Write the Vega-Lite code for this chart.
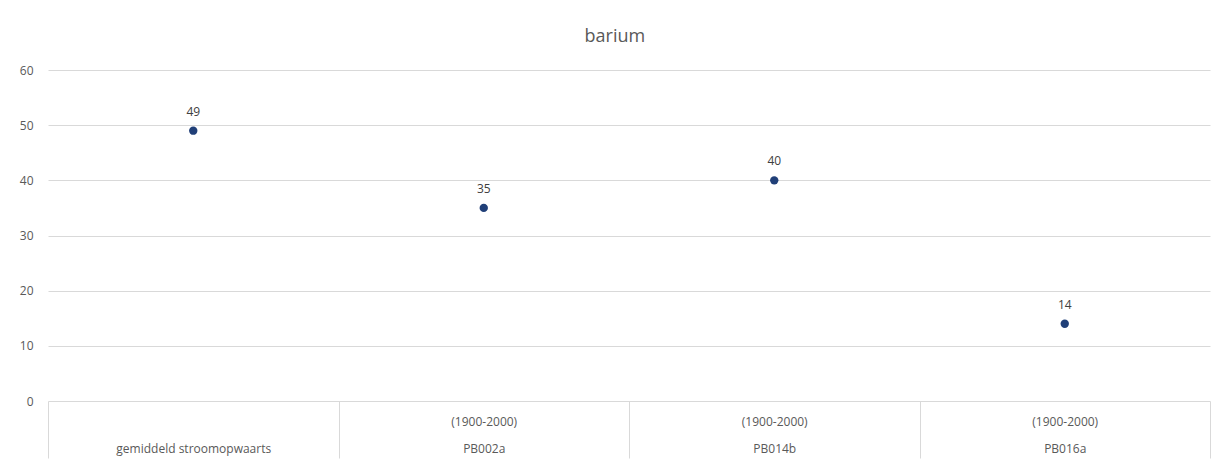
{
  "$schema": "https://vega.github.io/schema/vega-lite/v6.json",
  "width": 1162,
  "height": 331,
  "autosize": {"type": "none"},
  "padding": {"left": 48, "top": 70, "right": 17, "bottom": 65},
  "background": "white",
  "config": {
    "font": "Liberation Sans",
    "view": {"stroke": null}
  },
  "title": {
    "text": "barium",
    "fontSize": 18,
    "fontWeight": "normal",
    "color": "#595959",
    "font": "Open Sans",
    "anchor": "middle",
    "frame": "bounds",
    "offset": 18
  },
  "data": {
    "values": [
      {"locatie": "gemiddeld stroomopwaarts", "periode": "", "waarde": 49},
      {"locatie": "PB002a", "periode": "(1900-2000)", "waarde": 35},
      {"locatie": "PB014b", "periode": "(1900-2000)", "waarde": 40},
      {"locatie": "PB016a", "periode": "(1900-2000)", "waarde": 14}
    ]
  },
  "encoding": {
    "x": {
      "field": "locatie",
      "type": "nominal",
      "sort": null,
      "scale": {"paddingInner": 0, "paddingOuter": 0},
      "axis": {
        "title": null,
        "domain": false,
        "ticks": true,
        "tickBand": "extent",
        "tickSize": 57,
        "tickColor": "#d9d9d9",
        "tickWidth": 1,
        "labelAngle": 0,
        "labelExpr": "indexof(['PB002a','PB014b','PB016a'], datum.value) >= 0 ? ['(1900-2000)', datum.value] : (datum.value == 'gemiddeld stroomopwaarts' ? ['', datum.value] : '')",
        "labelLineHeight": 27,
        "labelPadding": -42,
        "labelFontSize": 12,
        "labelColor": "#595959",
        "labelFont": "Open Sans"
      }
    },
    "y": {
      "field": "waarde",
      "type": "quantitative",
      "scale": {"domain": [0, 60], "nice": false},
      "axis": {
        "title": null,
        "values": [0, 10, 20, 30, 40, 50, 60],
        "domain": false,
        "ticks": false,
        "grid": true,
        "gridColor": "#d9d9d9",
        "gridWidth": 1,
        "labelPadding": 15,
        "labelFontSize": 12,
        "labelColor": "#595959",
        "labelFont": "Open Sans"
      }
    }
  },
  "layer": [
    {
      "mark": {"type": "point", "filled": true, "shape": "circle", "size": 70, "color": "#203f78", "opacity": 1}
    },
    {
      "mark": {"type": "text", "dy": -19, "fontSize": 12, "color": "#404040", "font": "Open Sans"},
      "encoding": {"text": {"field": "waarde", "type": "quantitative"}}
    }
  ]
}
